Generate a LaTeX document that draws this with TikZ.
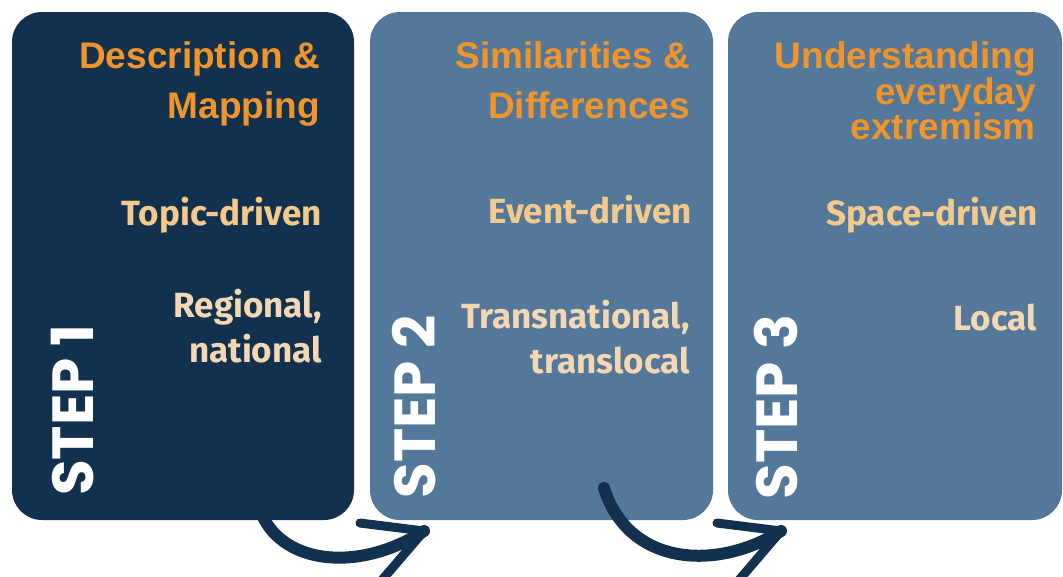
\documentclass[tikz,border=0pt]{standalone}
\usepackage{fontspec}
\newfontfamily\titlefont{Liberation Sans}
\newfontfamily\subfont{Fira Sans}
\newfontfamily\stepfont{Poppins}
\definecolor{navy}{HTML}{12314F}
\definecolor{steel}{HTML}{53789A}
\definecolor{orangeT}{HTML}{F0952B}
\definecolor{peachA}{HTML}{F4C98C}
\definecolor{peachB}{HTML}{F4D7B3}
\begin{document}
\begin{tikzpicture}[x=1pt,y=-1pt,
  box/.style={rounded corners=30pt},
  ttl/.style={anchor=base east,inner sep=0pt,text=orangeT,font=\titlefont\bfseries\fontsize{37}{37}\selectfont},
  sub/.style={anchor=base east,inner sep=0pt,font=\subfont\bfseries\fontsize{35}{35}\selectfont},
  steplabel/.style={rotate=90,inner sep=0pt,text=white,font=\stepfont\bfseries\fontsize{58}{58}\selectfont},
  brush/.style={draw=navy,line width=12pt,line cap=round},
  brushhead/.style={draw=navy,line width=9pt,line cap=round,line join=round}]
\useasboundingbox[fill=white] (0,0) rectangle (1063,576);
% boxes
\fill[navy,box] (12,12) rectangle (354,520);
\fill[steel,box] (370,12) rectangle (713,520);
\fill[steel,box] (728,12) rectangle (1062,520);
% box 1
\node[ttl] (t1a) at (320,68) {Description \&};
\node[ttl] (t1b) at (320,118) {Mapping};
\node[sub,text=peachA] (s1a) at (322,225) {Topic-driven};
\node[sub,text=peachB] (s1b) at (322,317) {Regional,};
\node[sub,text=peachB] (s1c) at (322,362) {national};
\node[steplabel] (st1) at (73,410) {STEP 1};
% box 2
\node[ttl] (t2a) at (690,68) {Similarities \&};
\node[ttl] (t2b) at (690,118) {Differences};
\node[sub,text=peachA] (s2a) at (692,223) {Event-driven};
\node[sub,text=peachB] (s2b) at (690,328) {Transnational,};
\node[sub,text=peachB] (s2c) at (690,373) {translocal};
\node[steplabel] (st2) at (414,407) {STEP 2};
% box 3
\node[ttl] (t3a) at (1036,68) {Understanding};
\node[ttl] (t3b) at (1036,104) {everyday};
\node[ttl] (t3c) at (1036,139) {extremism};
\node[sub,text=peachA] (s3a) at (1038,225) {Space-driven};
\node[sub,text=peachB] (s3b) at (1037,330) {Local};
\node[steplabel] (st3) at (776,407) {STEP 3};
% arrows
\coordinate (a1s) at (262,515);
\coordinate (a1t) at (424,531);
\coordinate (a1u) at (360,523);
\coordinate (a1l) at (382,580);
\coordinate (a2s) at (604,488);
\coordinate (a2t) at (781,531);
\coordinate (a2u) at (717,523);
\coordinate (a2l) at (739,580);
\draw[brush] (a1s) .. controls (285,565) and (360,572) .. (a1t);
\draw[brushhead] (a1u) -- (a1t) -- (a1l);
\draw[brush] (a2s) .. controls (628,565) and (715,572) .. (a2t);
\draw[brushhead] (a2u) -- (a2t) -- (a2l);
\end{tikzpicture}
\end{document}
